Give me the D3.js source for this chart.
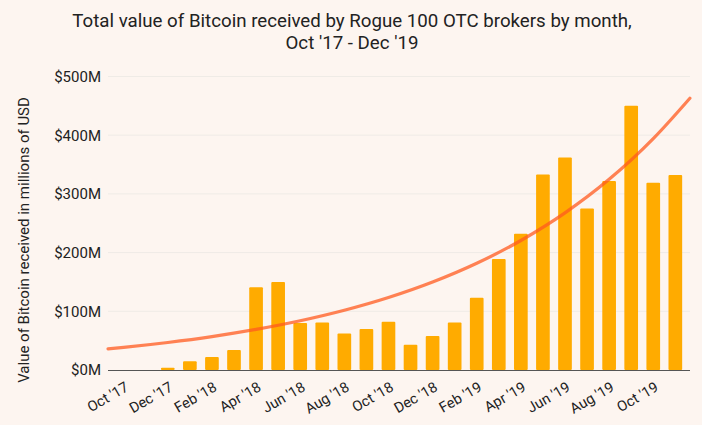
<!DOCTYPE html>
<html>
<head>
<meta charset="utf-8">
<script src="https://cdn.jsdelivr.net/npm/d3@7"></script>
<style>
  html, body { margin: 0; padding: 0; background: #fdf5f0; }
  svg { display: block; font-family: Roboto, "Noto Sans", sans-serif; }
</style>
</head>
<body>
<svg id="chart" width="702" height="425"></svg>
<script>
const months = ["Oct '17","Nov '17","Dec '17","Jan '18","Feb '18","Mar '18","Apr '18","May '18",
  "Jun '18","Jul '18","Aug '18","Sep '18","Oct '18","Nov '18","Dec '18","Jan '19","Feb '19",
  "Mar '19","Apr '19","May '19","Jun '19","Jul '19","Aug '19","Sep '19","Oct '19","Nov '19"];
const values = [0, 0, 4, 15, 22, 34, 141, 150, 80, 81, 62, 70, 82, 43, 58, 81, 123,
  189, 232, 333, 362, 275, 322, 450, 319, 332];
const tickLabels = ["Oct '17","Dec '17","Feb '18","Apr '18","Jun '18","Aug '18","Oct '18",
  "Dec '18","Feb '19","Apr '19","Jun '19","Aug '19","Oct '19"];
const yTicks = [0, 100, 200, 300, 400, 500];
// trend line: month position (index) and value
const trendPos = [-0.71, 0, 2, 4, 6, 8, 10, 12, 14, 16, 18, 20, 22, 24, 25.66];
const trendVal = [36, 38.6, 46.9, 56.9, 69.1, 83.8, 101.7, 123.4, 149.8, 181.8, 220.6, 267.7, 324.8, 394.2, 463];

const svg = d3.select("#chart");
const mLeft = 109, mRight = 690, mTop = 76.5, mBottom = 370;

const x = d3.scaleBand().domain(months).range([mLeft, mRight]).paddingInner(0.38).paddingOuter(0.355);
const y = d3.scaleLinear().domain([0, 500]).range([mBottom, mTop]);
const xi = d3.scaleLinear().domain([0, months.length - 1])
  .range([x(months[0]) + x.bandwidth() / 2, x(months[months.length - 1]) + x.bandwidth() / 2]);

// title
const title = svg.append("text").attr("text-anchor", "middle").attr("fill", "#222")
  .style("font-size", "18.7px");
title.append("tspan").attr("x", 352).attr("y", 26.7)
  .text("Total value of Bitcoin received by Rogue 100 OTC brokers by month,");
title.append("tspan").attr("x", 352).attr("y", 48.5)
  .text("Oct '17 - Dec '19");

// gridlines
svg.append("g").selectAll("line").data(yTicks.filter(d => d > 0)).join("line")
  .attr("x1", mLeft - 1).attr("x2", mRight)
  .attr("y1", d => y(d)).attr("y2", d => y(d))
  .attr("stroke", "#efebe6").attr("stroke-width", 1);

// y axis labels
const yAxis = d3.axisLeft(y).tickValues(yTicks).tickSize(0).tickPadding(8)
  .tickFormat(d => "$" + d + "M");
const gy = svg.append("g").attr("transform", `translate(${mLeft},0)`).call(yAxis);
gy.select(".domain").remove();
gy.selectAll("text").attr("fill", "#222").style("font-size", "15px").style("font-family", "Roboto");

// bars
svg.append("g").selectAll("rect").data(months).join("rect")
  .attr("x", d => x(d))
  .attr("width", x.bandwidth())
  .attr("y", (d, i) => y(values[i]))
  .attr("height", (d, i) => y(0) - y(values[i]))
  .attr("rx", 1)
  .attr("fill", "#ffab00");

// trend line
const line = d3.line().x(d => xi(d[0])).y(d => y(d[1])).curve(d3.curveMonotoneX);
svg.append("path").datum(trendPos.map((p, i) => [p, trendVal[i]]))
  .attr("d", line).attr("fill", "none")
  .attr("stroke", "#ff5a1f").attr("stroke-opacity", 0.75)
  .attr("stroke-width", 3.2).attr("stroke-linecap", "round");

// x axis
const xAxis = d3.axisBottom(x).tickValues(tickLabels).tickSize(0).tickPadding(0);
const gx = svg.append("g").attr("transform", `translate(0,${mBottom})`).call(xAxis);
gx.select(".domain").attr("stroke", "#555").attr("d", `M${mLeft - 1},0.5H${mRight}`);
gx.selectAll("text").attr("fill", "#222").style("font-size", "14.5px").style("font-family", "Roboto")
  .attr("text-anchor", "end").attr("y", 0).attr("dy", 0)
  .attr("transform", "translate(6,20) rotate(-30)");

// y axis title
svg.append("text").attr("transform", "translate(29,240) rotate(-90)")
  .attr("text-anchor", "middle").attr("fill", "#222").style("font-size", "15px")
  .text("Value of Bitcoin received in millions of USD");
</script>
</body>
</html>
